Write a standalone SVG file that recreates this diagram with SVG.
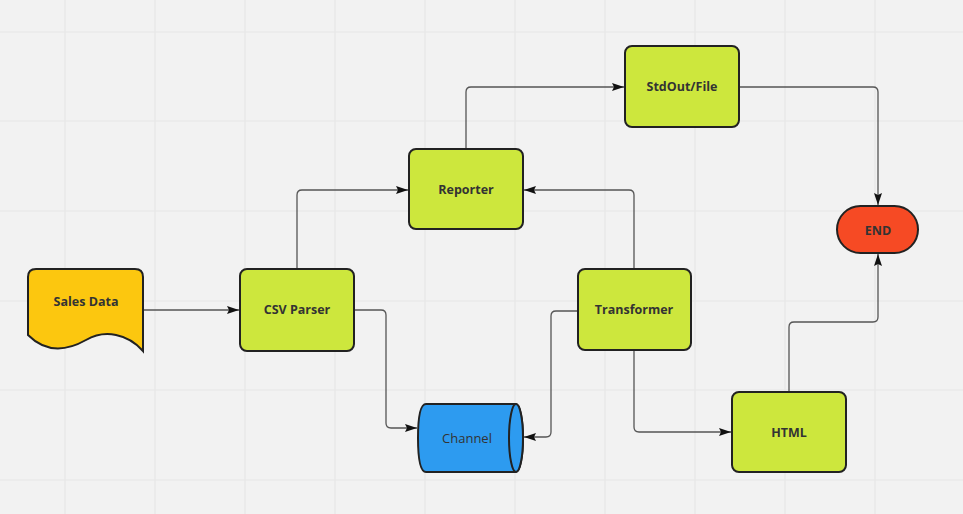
<svg xmlns="http://www.w3.org/2000/svg" width="963" height="514" viewBox="0 0 963 514">
<style>
.grid{stroke:#e6e6e6;stroke-width:1.2}
.node{stroke:#222;stroke-width:2}
.proc{fill:#cde73d}
.lbl{font-family:"Open Sans","Noto Sans","Liberation Sans",sans-serif;font-weight:700;font-size:12.5px;fill:#333;text-anchor:middle;dominant-baseline:central}
.lblr{font-family:"Open Sans","Noto Sans","Liberation Sans",sans-serif;font-weight:400;font-size:13px;fill:#333;text-anchor:middle;dominant-baseline:central}
.conn path{fill:none;stroke:#555;stroke-width:1.3;marker-end:url(#arr)}
</style>
<defs>
<marker id="arr" viewBox="0 0 12 8" refX="12" refY="4" markerWidth="12" markerHeight="8" markerUnits="userSpaceOnUse" orient="auto">
<path d="M0,0 L12,4 L0,8 L2,4 Z" fill="#111"/>
</marker>
</defs>
<rect width="963" height="514" fill="#f2f2f2"/>
<g id="grid">
<path class="grid" d="M65,0V514M155,0V514M245,0V514M335,0V514M425,0V514M515,0V514M605,0V514M695,0V514M785,0V514M875,0V514M0,32H963M0,121H963M0,211H963M0,301H963M0,390H963M0,480H963"/>
</g>
<g id="connectors" class="conn">
<path d="M143,310H239"/>
<path d="M297,269V195Q297,190 302,190H408"/>
<path d="M466,149V92Q466,87 471,87H624"/>
<path d="M739,87H873Q878,87 878,92V205"/>
<path d="M634,269V195Q634,190 629,190H524"/>
<path d="M354,310H381Q386,310 386,315V423Q386,428 391,428H417"/>
<path d="M578,311H556Q551,311 551,316V432Q551,437 546,437H524"/>
<path d="M634,350V427Q634,432 639,432H731"/>
<path d="M789,392V327Q789,322 794,322H873Q878,322 878,317V254"/>
</g>
<g id="sales-data">
<path class="node" fill="#fcc70f" d="M36,269H135Q143,269 143,277V351C128,334 105,329 86,340C70,349 48,355 28,335V277Q28,269 36,269Z"/>
<text class="lbl" x="86" y="301">Sales Data</text>
</g>
<g id="csv-parser">
<rect class="node proc" x="240" y="269" width="114" height="82" rx="7"/>
<text class="lbl" x="297" y="309">CSV Parser</text>
</g>
<g id="reporter">
<rect class="node proc" x="409" y="149" width="114" height="80" rx="7"/>
<text class="lbl" x="466" y="189">Reporter</text>
</g>
<g id="stdout-file">
<rect class="node proc" x="625" y="46" width="114" height="81" rx="7"/>
<text class="lbl" x="682" y="86">StdOut/File</text>
</g>
<g id="transformer">
<rect class="node proc" x="578" y="269" width="113" height="81" rx="7"/>
<text class="lbl" x="634" y="309">Transformer</text>
</g>
<g id="html">
<rect class="node proc" x="732" y="392" width="114" height="80" rx="7"/>
<text class="lbl" x="789" y="432">HTML</text>
</g>
<g id="end">
<rect class="node" fill="#f64a24" x="837" y="206" width="81" height="47" rx="23.5"/>
<text class="lbl" x="878" y="230">END</text>
</g>
<g id="channel">
<path class="node" fill="#2d9bf0" d="M426,404H516A7,34 0 0 1 516,472H426Q418,472 418,438Q418,404 426,404Z"/>
<ellipse class="node" fill="#2d9bf0" cx="516" cy="438" rx="7" ry="34"/>
<text class="lblr" x="467" y="438">Channel</text>
</g>
</svg>
